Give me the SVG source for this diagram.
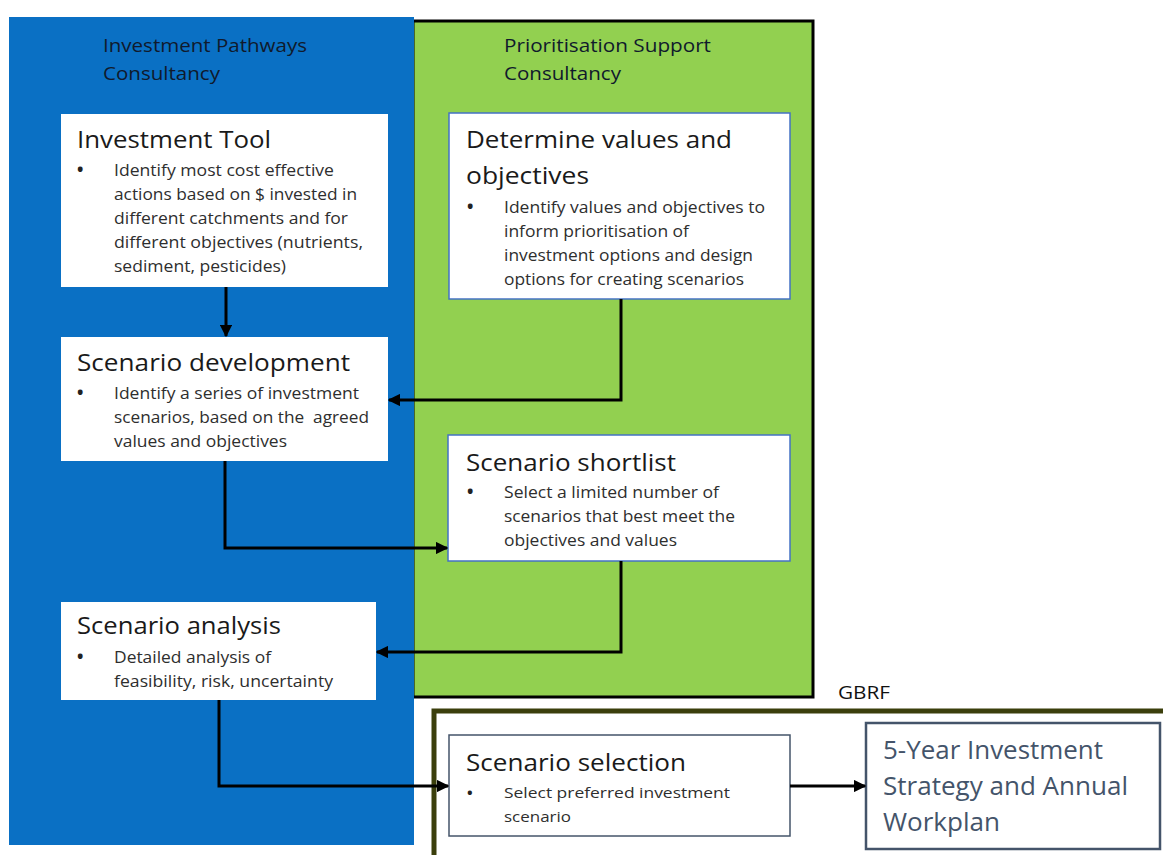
<svg xmlns="http://www.w3.org/2000/svg" width="1163" height="855" viewBox="0 0 1163 855">
<style>
.title{font-family:"Open Sans","Noto Sans",sans-serif;font-size:23px;fill:#1a1a1a}
.body{font-family:"Open Sans","Noto Sans",sans-serif;font-size:16.5px;fill:#2e2e2e}
.bul{font-family:"Open Sans","Noto Sans",sans-serif;font-size:17px;font-weight:bold;fill:#222222}
.hdr{font-family:"Open Sans","Noto Sans",sans-serif;font-size:18px;fill:#101a2c}
.box{fill:#ffffff}
.bbox{fill:#ffffff;stroke:#4472c4;stroke-width:1.5}
.conn{fill:none;stroke:#000000;stroke-width:3}
</style>
<defs>
<marker id="arr" viewBox="0 0 10 10" refX="9" refY="5" markerWidth="4.2" markerHeight="4.2" orient="auto" markerUnits="strokeWidth">
<path d="M0,0 L10,5 L0,10 z" fill="#000000"/>
</marker>
</defs>
<rect width="1163" height="855" fill="#ffffff"/>
<g id="prioritisation-lane">
<rect x="413" y="21" width="400" height="676" fill="#92d050" stroke="#000000" stroke-width="3"/>
<text class="hdr" x="504" y="52" textLength="207" lengthAdjust="spacingAndGlyphs">Prioritisation Support</text>
<text class="hdr" x="504" y="80" textLength="117" lengthAdjust="spacingAndGlyphs">Consultancy</text>
</g>
<g id="investment-lane">
<rect x="9" y="17" width="405" height="828" fill="#0a70c4"/>
<text class="hdr" x="103" y="52" textLength="204" lengthAdjust="spacingAndGlyphs">Investment Pathways</text>
<text class="hdr" x="103" y="80" textLength="117" lengthAdjust="spacingAndGlyphs">Consultancy</text>
</g>
<g id="gbrf-lane">
<rect x="434" y="711" width="740" height="160" fill="#ffffff" stroke="#3b3f0c" stroke-width="5"/>
<text class="hdr" x="838" y="699" textLength="52" lengthAdjust="spacingAndGlyphs" style="fill:#111111">GBRF</text>
</g>
<g id="investment-tool">
<rect class="box" x="61" y="114" width="327" height="173"/>
<text class="title" x="77" y="148" textLength="194" lengthAdjust="spacingAndGlyphs">Investment Tool</text>
<text class="bul" x="77" y="176">•</text>
<text class="body" x="114" y="176" textLength="220" lengthAdjust="spacingAndGlyphs">Identify most cost effective</text>
<text class="body" x="114" y="200" textLength="243" lengthAdjust="spacingAndGlyphs">actions based on $ invested in</text>
<text class="body" x="114" y="224" textLength="234" lengthAdjust="spacingAndGlyphs">different catchments and for</text>
<text class="body" x="114" y="248" textLength="249" lengthAdjust="spacingAndGlyphs">different objectives (nutrients,</text>
<text class="body" x="114" y="272" textLength="172" lengthAdjust="spacingAndGlyphs">sediment, pesticides)</text>
</g>
<g id="determine-values">
<rect class="bbox" x="449" y="113" width="341" height="186"/>
<text class="title" x="466" y="148" textLength="266" lengthAdjust="spacingAndGlyphs">Determine values and</text>
<text class="title" x="466" y="184" textLength="123" lengthAdjust="spacingAndGlyphs">objectives</text>
<text class="bul" x="467" y="213">•</text>
<text class="body" x="504" y="213" textLength="261" lengthAdjust="spacingAndGlyphs">Identify values and objectives to</text>
<text class="body" x="504" y="237" textLength="185" lengthAdjust="spacingAndGlyphs">inform prioritisation of</text>
<text class="body" x="504" y="261" textLength="249" lengthAdjust="spacingAndGlyphs">investment options and design</text>
<text class="body" x="504" y="285" textLength="240" lengthAdjust="spacingAndGlyphs">options for creating scenarios</text>
</g>
<g id="scenario-development">
<rect class="box" x="61" y="337" width="327" height="124"/>
<text class="title" x="77" y="371" textLength="273" lengthAdjust="spacingAndGlyphs">Scenario development</text>
<text class="bul" x="77" y="399">•</text>
<text class="body" x="114" y="399" textLength="245" lengthAdjust="spacingAndGlyphs">Identify a series of investment</text>
<text class="body" x="114" y="423" textLength="255" lengthAdjust="spacingAndGlyphs" xml:space="preserve">scenarios, based on the  agreed</text>
<text class="body" x="114" y="447" textLength="173" lengthAdjust="spacingAndGlyphs">values and objectives</text>
</g>
<g id="scenario-shortlist">
<rect class="bbox" x="448" y="435" width="342" height="126"/>
<text class="title" x="466" y="471" textLength="210" lengthAdjust="spacingAndGlyphs">Scenario shortlist</text>
<text class="bul" x="467" y="498">•</text>
<text class="body" x="504" y="498" textLength="215" lengthAdjust="spacingAndGlyphs">Select a limited number of</text>
<text class="body" x="504" y="522" textLength="231" lengthAdjust="spacingAndGlyphs">scenarios that best meet the</text>
<text class="body" x="504" y="546" textLength="173" lengthAdjust="spacingAndGlyphs">objectives and values</text>
</g>
<g id="scenario-analysis">
<rect class="box" x="61" y="602" width="315" height="98"/>
<text class="title" x="77" y="634" textLength="204" lengthAdjust="spacingAndGlyphs">Scenario analysis</text>
<text class="bul" x="77" y="663">•</text>
<text class="body" x="114" y="663" textLength="157" lengthAdjust="spacingAndGlyphs">Detailed analysis of</text>
<text class="body" x="114" y="687" textLength="219" lengthAdjust="spacingAndGlyphs">feasibility, risk, uncertainty</text>
</g>
<g id="scenario-selection">
<rect x="449" y="735" width="341" height="101" fill="#ffffff" stroke="#44546a" stroke-width="1.5"/>
<text class="title" x="466" y="771" textLength="220" lengthAdjust="spacingAndGlyphs">Scenario selection</text>
<text class="bul" x="467" y="798" style="font-size:15px">•</text>
<text class="body" x="504" y="798" style="font-size:15px" textLength="226" lengthAdjust="spacingAndGlyphs">Select preferred investment</text>
<text class="body" x="504" y="822" style="font-size:15px" textLength="67" lengthAdjust="spacingAndGlyphs">scenario</text>
</g>
<g id="five-year-strategy">
<rect x="866" y="723" width="294" height="126" fill="#ffffff" stroke="#44546a" stroke-width="2.5"/>
<text class="title" x="883" y="759" style="font-size:25px;fill:#44546a" textLength="220" lengthAdjust="spacingAndGlyphs">5-Year Investment</text>
<text class="title" x="883" y="795" style="font-size:25px;fill:#44546a" textLength="245" lengthAdjust="spacingAndGlyphs">Strategy and Annual</text>
<text class="title" x="883" y="831" style="font-size:25px;fill:#44546a" textLength="117" lengthAdjust="spacingAndGlyphs">Workplan</text>
</g>
<g id="connectors">
<path class="conn" d="M226,287 L226,336" marker-end="url(#arr)"/>
<path class="conn" d="M621,299 L621,400 L389,400" marker-end="url(#arr)"/>
<path class="conn" d="M225,461 L225,548 L447,548" marker-end="url(#arr)"/>
<path class="conn" d="M621,561 L621,652 L377,652" marker-end="url(#arr)"/>
<path class="conn" d="M219,700 L219,786 L448,786" marker-end="url(#arr)"/>
<path class="conn" d="M790,786 L865,786" marker-end="url(#arr)"/>
</g>
</svg>
